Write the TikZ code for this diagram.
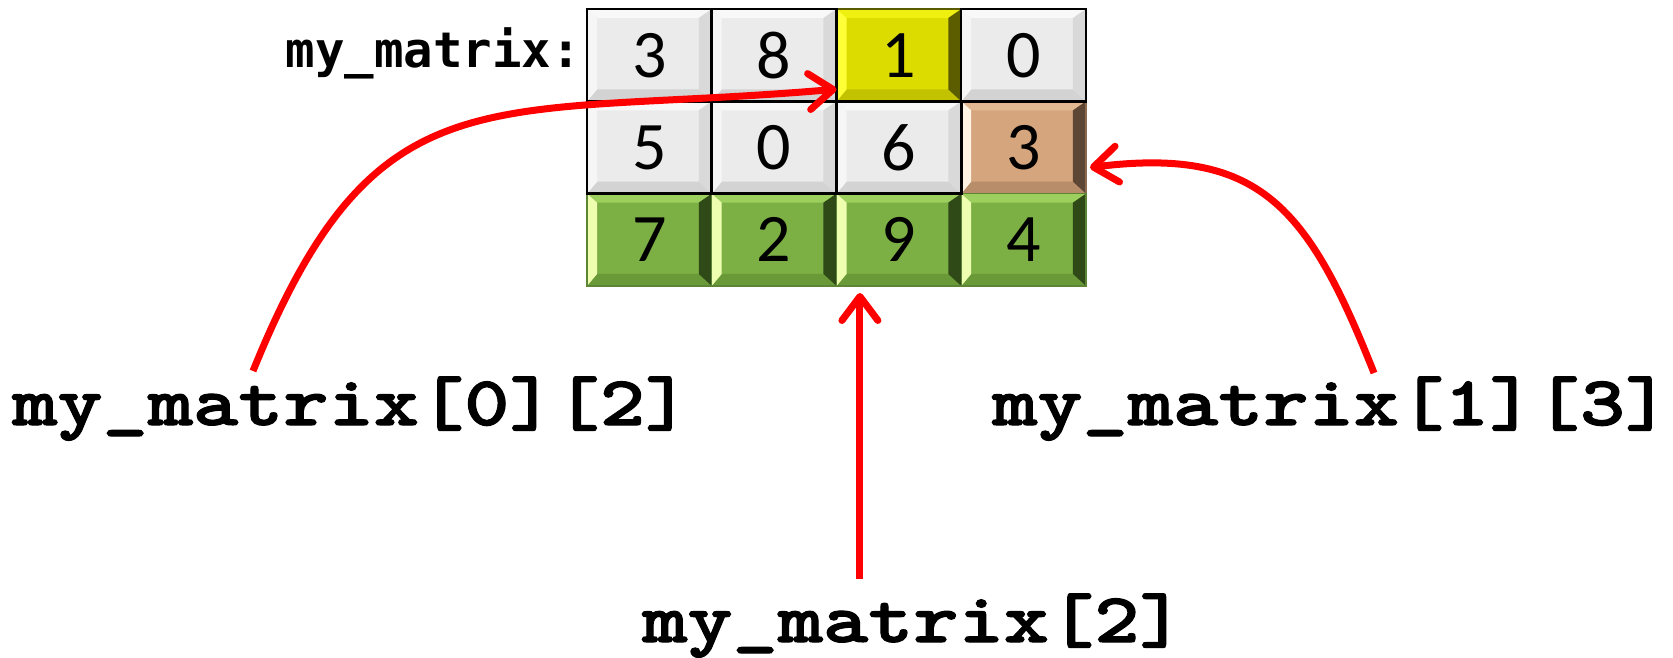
\documentclass[tikz,border=0pt]{standalone}
\usepackage{fontspec}
\setmainfont{Carlito}
\newfontfamily\consfont{DejaVu Sans Mono}
\newfontfamily\codefont{lmmonolt10-bold.otf}[FakeBold=1.6, FakeStretch=1.23]
\usetikzlibrary{arrows.meta,calc}

% bevel palettes: F face, T top, L left, R right, B bottom
\definecolor{gyF}{HTML}{EBEBEB}
\definecolor{gyT}{HTML}{F8F8F8}
\definecolor{gyL}{HTML}{F6F6F6}
\definecolor{gyR}{HTML}{D9D9D9}
\definecolor{gyB}{HTML}{D3D3D3}
\definecolor{ywF}{HTML}{DCDC00}
\definecolor{ywT}{HTML}{EFEF10}
\definecolor{ywL}{HTML}{FFFF38}
\definecolor{ywR}{HTML}{5C5C00}
\definecolor{ywB}{HTML}{C2C200}
\definecolor{orF}{HTML}{D5A57E}
\definecolor{orT}{HTML}{E2B892}
\definecolor{orL}{HTML}{FFF4E4}
\definecolor{orR}{HTML}{5E4634}
\definecolor{orB}{HTML}{B88D6A}
\definecolor{gnF}{HTML}{7CAF44}
\definecolor{gnT}{HTML}{9CCF5E}
\definecolor{gnL}{HTML}{EEFFB0}
\definecolor{gnR}{HTML}{2F4A17}
\definecolor{gnB}{HTML}{6A9938}
\definecolor{ywEdge}{HTML}{5A5A00}
\definecolor{orEdge}{HTML}{8A6A50}
\definecolor{gnEdge}{HTML}{5C8636}

\tikzset{
  cellbox/.style={rectangle, inner sep=0pt, outer sep=0pt,
    minimum width=124.75pt, minimum height=92.33pt},
  digit/.style={inner sep=0pt, font=\fontsize{68}{68}\selectfont},
  biglabel/.style={inner sep=0pt, anchor=base west,
    font=\codefont\fontsize{70}{70}\selectfont},
  pointer/.style={draw=red, line width=7pt,
    -{Straight Barb[length=24pt, width=36pt, round]}}
}

% widths of the four bevels (left, right, top, bottom)
\def\bL{10}\def\bR{13}\def\bT{9}\def\bB{12}

% #1 name, #2 x, #3 y, #4 digit, #5 palette, #6 edge colour, #7 edge width
\newcommand\bevcell[7]{%
  \node[cellbox, fill=#5F] (#1) at (#2,#3) {};
  \fill[#5T] (#1.north west) -- (#1.north east)
    -- ($(#1.north east)+(-\bR,-\bT)$) -- ($(#1.north west)+(\bL,-\bT)$) -- cycle;
  \fill[#5B] (#1.south west) -- (#1.south east)
    -- ($(#1.south east)+(-\bR,\bB)$) -- ($(#1.south west)+(\bL,\bB)$) -- cycle;
  \fill[#5L] (#1.north west) -- (#1.south west)
    -- ($(#1.south west)+(\bL,\bB)$) -- ($(#1.north west)+(\bL,-\bT)$) -- cycle;
  \fill[#5R] (#1.north east) -- (#1.south east)
    -- ($(#1.south east)+(-\bR,\bB)$) -- ($(#1.north east)+(-\bR,-\bT)$) -- cycle;
  \draw[#6, line width=#7] (#1.north west) rectangle (#1.south east);
  \node[digit] (#1-d) at (#1) {#4};
}

\begin{document}
\begin{tikzpicture}[x=1pt, y=1pt]
\useasboundingbox (0,0) rectangle (1673,657);

% coloured cells first, grey cells on top so their black edges stay visible
\bevcell{c02}{898.9}{601.8}{1}{yw}{ywEdge}{1.5pt}
\bevcell{c13}{1023.6}{509.5}{3}{or}{orEdge}{1.2pt}
\bevcell{c20}{649.4}{417.2}{7}{gn}{gnEdge}{1.2pt}
\bevcell{c21}{774.1}{417.2}{2}{gn}{gnEdge}{1.2pt}
\bevcell{c22}{898.9}{417.2}{9}{gn}{gnEdge}{1.2pt}
\bevcell{c23}{1023.6}{417.2}{4}{gn}{gnEdge}{1.2pt}
\bevcell{c00}{649.4}{601.8}{3}{gy}{black}{2.5pt}
\bevcell{c01}{774.1}{601.8}{8}{gy}{black}{2.5pt}
\bevcell{c03}{1023.6}{601.8}{0}{gy}{black}{2.5pt}
\bevcell{c10}{649.4}{509.5}{5}{gy}{black}{2.5pt}
\bevcell{c11}{774.1}{509.5}{0}{gy}{black}{2.5pt}
\bevcell{c12}{898.9}{509.5}{6}{gy}{black}{2.5pt}

% matrix name
\node[inner sep=0pt, anchor=base east,
  font=\consfont\bfseries\fontsize{49}{49}\selectfont] (name) at (581,589) {my\_matrix:};

% index expressions
\node[biglabel] (L1) at (12,232) {my\_matrix[0][2]};
\node[biglabel] (L2) at (642,15) {my\_matrix[2]};
\node[biglabel] (L3) at (992,232) {my\_matrix[1][3]};

% pointer ends
\coordinate (s1) at ($(L1.base west)+(241,54)$);
\coordinate (e1) at ($(c02.west)+(0,-34)$);
\coordinate (s2) at ($(c22.south)+(-39,-293)$);
\coordinate (e2) at ($(c22.south)+(-39,-7)$);
\coordinate (s3) at ($(L3.base west)+(382,52)$);
\coordinate (e3) at ($(c13.east)+(4,-20)$);

\draw[pointer] (s1) .. controls ($(s1)+(124,306)$) and ($(e1)+(-350,-30)$) .. (e1);
\draw[pointer] (s2) -- (e2);
\draw[pointer] (s3) .. controls ($(s3)+(-66,167)$) and ($(e3)+(169,21)$) .. (e3);
\end{tikzpicture}
\end{document}
